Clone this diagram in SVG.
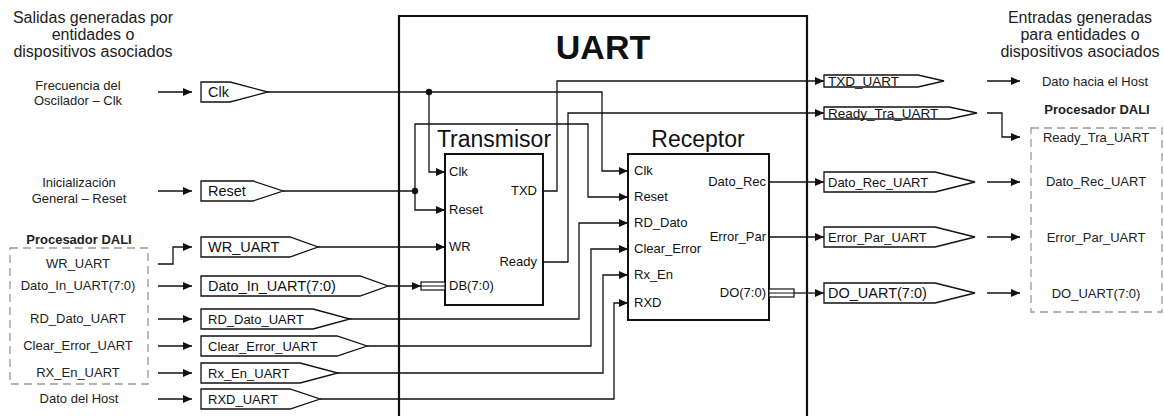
<svg xmlns="http://www.w3.org/2000/svg" width="1164" height="416" viewBox="0 0 1164 416">
<style>
text{font-family:"Liberation Sans",Arial,sans-serif;fill:#111}
.hdr{font-size:16px;text-anchor:middle;fill:#222}
.lbl{font-size:13px;text-anchor:middle;fill:#222}
.bold{font-weight:bold}
.tag{fill:#fff;stroke:#111;stroke-width:1.3}
.t14{font-size:14.5px}
.t13{font-size:13px}
.port{font-size:13px}
.end{text-anchor:end}
.blk{fill:#fff;stroke:#111;stroke-width:2}
.w{fill:none;stroke:#111;stroke-width:1.3}
.dash{fill:none;stroke:#999;stroke-width:1.3;stroke-dasharray:8 5}
</style>
<defs>
<marker id="arr" markerUnits="userSpaceOnUse" markerWidth="10" markerHeight="8" refX="9" refY="4" orient="auto">
<path d="M0,0 L9,4 L0,8 z" fill="#111"/>
</marker>
</defs>

<g id="headers">
<text class="hdr" x="93" y="23">Salidas generadas por</text>
<text class="hdr" x="93" y="40">entidades o</text>
<text class="hdr" x="93" y="57">dispositivos asociados</text>
<text class="hdr" x="1080" y="23">Entradas generadas</text>
<text class="hdr" x="1080" y="40">para entidades o</text>
<text class="hdr" x="1080" y="57">dispositivos asociados</text>
</g>

<g id="uart">
<path d="M399,418 L399,16 L807,16 L807,418" fill="none" stroke="#111" stroke-width="2.2"/>
<text x="603" y="59" font-size="34" font-weight="bold" text-anchor="middle">UART</text>
</g>

<g id="src-left">
<text class="lbl" x="78" y="90">Frecuencia del</text>
<text class="lbl" x="78" y="105">Oscilador – Clk</text>
<text class="lbl" x="79" y="187">Inicialización</text>
<text class="lbl" x="79" y="203">General – Reset</text>
<text class="lbl bold" x="79" y="244" font-size="12.5">Procesador DALI</text>
<rect class="dash" x="10" y="248" width="138" height="136"/>
<text class="lbl" x="78" y="268">WR_UART</text>
<text class="lbl" x="78" y="290">Dato_In_UART(7:0)</text>
<text class="lbl" x="78" y="323">RD_Dato_UART</text>
<text class="lbl" x="78" y="350">Clear_Error_UART</text>
<text class="lbl" x="78" y="377">RX_En_UART</text>
<text class="lbl" x="79" y="403">Dato del Host</text>
</g>

<g id="tags-in">
<polygon class="tag" points="201,82 230,82 268,92 230,102 201,102"/>
<text class="t14" x="208" y="97">Clk</text>
<polygon class="tag" points="201,181 253,181 283,191 253,201 201,201"/>
<text class="t14" x="208" y="196">Reset</text>
<polygon class="tag" points="201,237 290,237 318,247 290,257 201,257"/>
<text class="t14" x="208" y="252">WR_UART</text>
<polygon class="tag" points="201,276 360,276 388,286 360,296 201,296"/>
<text class="t14" x="208" y="291">Dato_In_UART(7:0)</text>
<polygon class="tag" points="201,309 313,309 350,319 313,329 201,329"/>
<text class="t13" x="208" y="323.5">RD_Dato_UART</text>
<polygon class="tag" points="201,336 337,336 367,346 337,356 201,356"/>
<text class="t13" x="208" y="350.5">Clear_Error_UART</text>
<polygon class="tag" points="201,363 300,363 338,373 300,383 201,383"/>
<text class="t13" x="208" y="377.5">Rx_En_UART</text>
<polygon class="tag" points="201,389 290,389 320,399 290,409 201,409"/>
<text class="t13" x="208" y="403.5">RXD_UART</text>
</g>

<g id="transmisor">
<text x="494" y="147" font-size="23" text-anchor="middle">Transmisor</text>
<rect class="blk" x="445" y="154" width="98" height="151"/>
<text class="port" x="449" y="176">Clk</text>
<text class="port" x="449" y="214">Reset</text>
<text class="port" x="449" y="251">WR</text>
<text class="port" x="449" y="290">DB(7:0)</text>
<text class="port end" x="537" y="195">TXD</text>
<text class="port end" x="537" y="266">Ready</text>
</g>

<g id="receptor">
<text x="698" y="147" font-size="23" text-anchor="middle">Receptor</text>
<rect class="blk" x="628" y="154" width="141" height="166"/>
<text class="port" x="634" y="175">Clk</text>
<text class="port" x="634" y="201">Reset</text>
<text class="port" x="634" y="227">RD_Dato</text>
<text class="port" x="634" y="253">Clear_Error</text>
<text class="port" x="634" y="279">Rx_En</text>
<text class="port" x="634" y="307">RXD</text>
<text class="port end" x="766" y="186">Dato_Rec</text>
<text class="port end" x="766" y="241">Error_Par</text>
<text class="port end" x="766" y="297">DO(7:0)</text>
</g>

<g id="tags-out">
<polygon class="tag" points="824,75 918,75 944,81 918,87 824,87"/>
<text x="828" y="86" font-size="13.5">TXD_UART</text>
<polygon class="tag" points="824,107 949,107 977,113 949,119 824,119"/>
<text x="828" y="118" font-size="13.5">Ready_Tra_UART</text>
<polygon class="tag" points="824,172 935,172 975,182 935,192 824,192"/>
<text x="828" y="186.5" font-size="13">Dato_Rec_UART</text>
<polygon class="tag" points="824,227 935,227 975,237 935,247 824,247"/>
<text x="828" y="241.5" font-size="13">Error_Par_UART</text>
<polygon class="tag" points="824,283 935,283 975,293 935,303 824,303"/>
<text x="828" y="298" font-size="14.5">DO_UART(7:0)</text>
</g>

<g id="dst-right">
<text class="lbl" x="1095" y="86">Dato hacia el Host</text>
<text class="lbl bold" x="1097" y="114" font-size="12.5">Procesador DALI</text>
<rect class="dash" x="1031" y="128" width="131" height="184"/>
<text class="lbl" x="1096" y="142">Ready_Tra_UART</text>
<text class="lbl" x="1096" y="186">Dato_Rec_UART</text>
<text class="lbl" x="1096" y="242">Error_Par_UART</text>
<text class="lbl" x="1096" y="298">DO_UART(7:0)</text>
</g>

<g id="connectors">
<!-- left source arrows -->
<path class="w" d="M158,92 H192" marker-end="url(#arr)"/>
<path class="w" d="M158,191 H192" marker-end="url(#arr)"/>
<path class="w" d="M158,264 H173 V247 H192" marker-end="url(#arr)"/>
<path class="w" d="M158,286 H192" marker-end="url(#arr)"/>
<path class="w" d="M158,319 H192" marker-end="url(#arr)"/>
<path class="w" d="M158,346 H192" marker-end="url(#arr)"/>
<path class="w" d="M158,373 H192" marker-end="url(#arr)"/>
<path class="w" d="M158,399 H192" marker-end="url(#arr)"/>
<!-- clk -->
<path class="w" d="M268,92 H602 V171 H628" marker-end="url(#arr)"/>
<path class="w" d="M429,92 V172 H445" marker-end="url(#arr)"/>
<circle cx="429" cy="92" r="3.2" fill="#111"/>
<!-- reset -->
<path class="w" d="M283,191 H415 V210 H445" marker-end="url(#arr)"/>
<path class="w" d="M415,191 V124 H588 V197 H628" marker-end="url(#arr)"/>
<circle cx="415" cy="191" r="3.2" fill="#111"/>
<!-- WR -->
<path class="w" d="M318,247 H445" marker-end="url(#arr)"/>
<!-- DB bus -->
<path class="w" d="M388,286 H421" marker-end="url(#arr)"/>
<rect x="421" y="282" width="24" height="8" fill="#fff" stroke="#111" stroke-width="1.2"/>
<line x1="421" y1="286" x2="445" y2="286" stroke="#111" stroke-width="1"/>
<!-- receptor inputs -->
<path class="w" d="M350,319 H579 V223 H628" marker-end="url(#arr)"/>
<path class="w" d="M367,346 H591 V249 H628" marker-end="url(#arr)"/>
<path class="w" d="M338,373 H603 V275 H628" marker-end="url(#arr)"/>
<path class="w" d="M320,399 H614 V303 H628" marker-end="url(#arr)"/>
<!-- transmisor outputs -->
<path class="w" d="M543,191 H557 V81 H824" marker-end="url(#arr)"/>
<path class="w" d="M543,262 H568 V113 H824" marker-end="url(#arr)"/>
<!-- receptor outputs -->
<path class="w" d="M769,182 H824" marker-end="url(#arr)"/>
<path class="w" d="M769,237 H824" marker-end="url(#arr)"/>
<rect x="769" y="289" width="25" height="8" fill="#fff" stroke="#111" stroke-width="1.2"/>
<line x1="769" y1="293" x2="794" y2="293" stroke="#111" stroke-width="1"/>
<path class="w" d="M794,293 H824" marker-end="url(#arr)"/>
<!-- right destination arrows -->
<path class="w" d="M987,81 H1020" marker-end="url(#arr)"/>
<path class="w" d="M987,113 H1002 V137 H1020" marker-end="url(#arr)"/>
<path class="w" d="M987,182 H1020" marker-end="url(#arr)"/>
<path class="w" d="M987,237 H1020" marker-end="url(#arr)"/>
<path class="w" d="M987,293 H1020" marker-end="url(#arr)"/>
</g>
</svg>
